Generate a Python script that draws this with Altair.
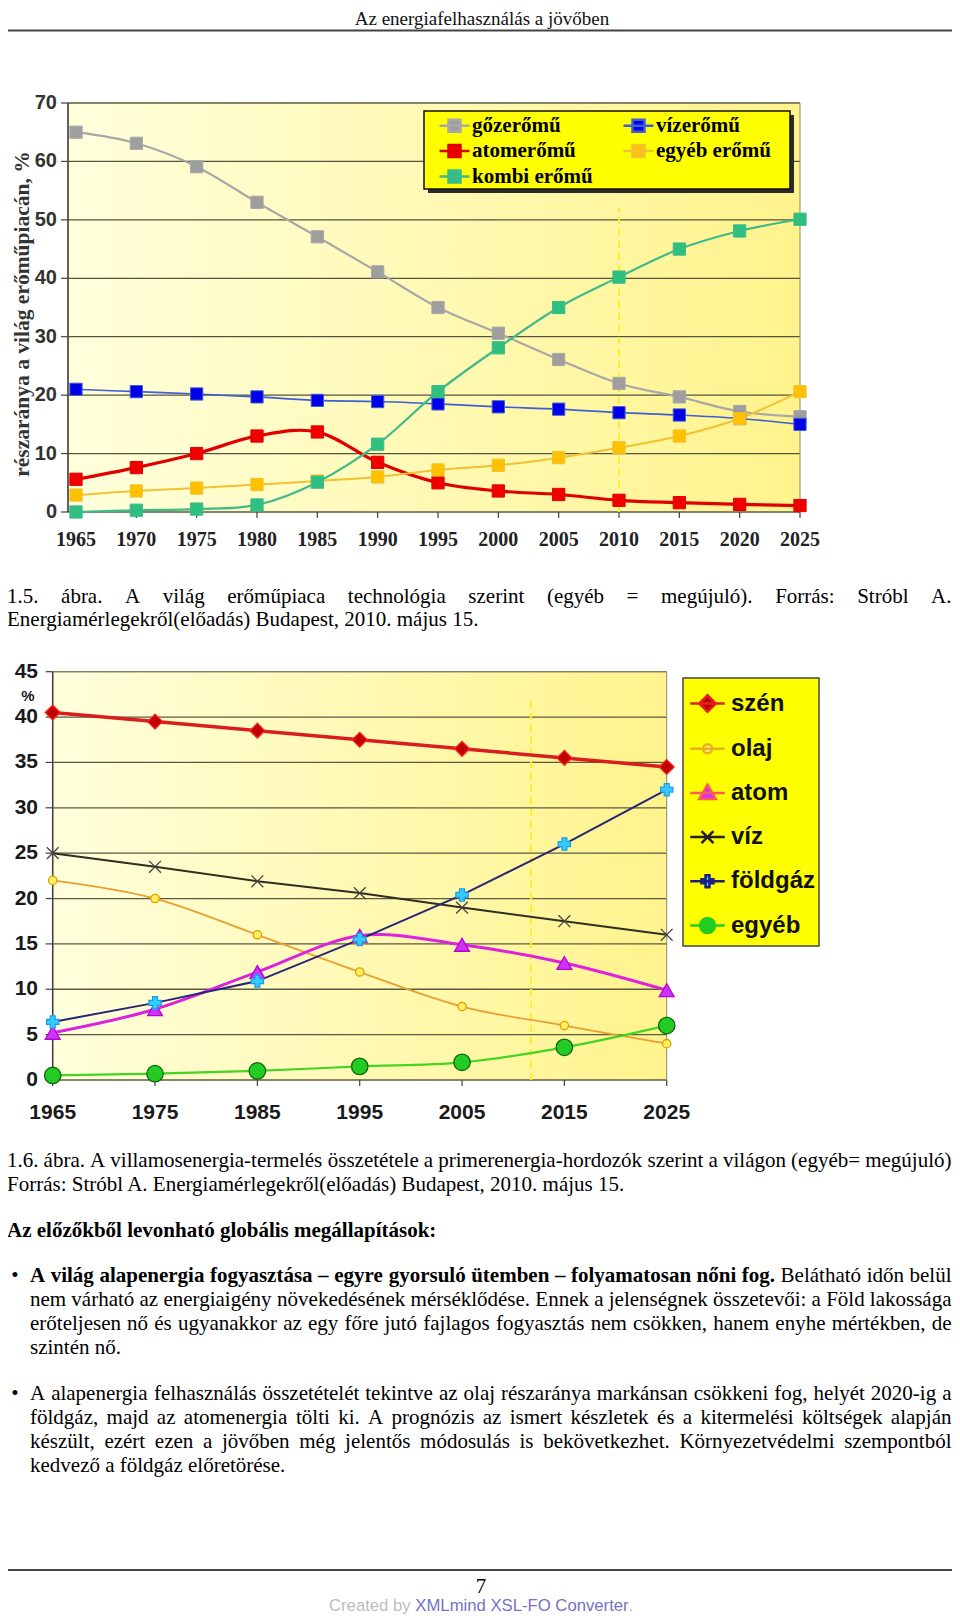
import unicodedata
import pandas as pd
import altair as alt

# ---------------- Figure 1.5 : world power-plant market ----------------
years_1 = [1965, 1970, 1975, 1980, 1985, 1990, 1995, 2000, 2005, 2010, 2015, 2020, 2025]
series_1 = ["gőzerőmű", "vízerőmű", "atomerőmű", "egyéb erőmű", "kombi erőmű"]
gozeromu = [65.0, 63.1, 59.1, 53.0, 47.1, 41.1, 35.0, 30.6, 26.1, 22.0, 19.7, 17.2, 16.3]
vizeromu = [21.0, 20.6, 20.2, 19.7, 19.1, 18.9, 18.5, 18.0, 17.6, 17.0, 16.6, 16.0, 15.0]
atomeromu = [5.6, 7.6, 10.0, 13.0, 13.7, 8.5, 5.0, 3.6, 3.0, 2.0, 1.6, 1.3, 1.1]
egyeb_eromu = [2.9, 3.6, 4.1, 4.7, 5.3, 6.0, 7.2, 8.0, 9.3, 11.0, 13.0, 16.0, 20.6]
kombi_eromu = [0.0, 0.3, 0.5, 1.2, 5.1, 11.6, 20.6, 28.1, 35.0, 40.2, 45.0, 48.1, 50.1]
legend_order_1 = ["gőzerőmű", "atomerőmű", "kombi erőmű", "vízerőmű", "egyéb erőmű"]
y_ticks_1 = [0, 10, 20, 30, 40, 50, 60, 70]
forecast_1 = 2010
forecast_1_top = 52
y_title_1 = "részaránya a világ erőműpiacán, %"

# ---------------- Figure 1.6 : electricity by primary source ----------------
years_2 = [1965, 1975, 1985, 1995, 2005, 2015, 2025]
series_2 = ["szén", "olaj", "atom", "víz", "földgáz", "egyéb"]
szen = [40.5, 39.5, 38.5, 37.5, 36.5, 35.5, 34.5]
olaj = [22.0, 20.0, 16.0, 11.9, 8.1, 6.0, 4.0]
atom = [5.2, 7.8, 11.9, 15.9, 14.9, 12.9, 9.9]
viz = [25.0, 23.5, 21.9, 20.6, 19.0, 17.5, 16.0]
foldgaz = [6.4, 8.5, 10.9, 15.5, 20.4, 26.0, 32.0]
egyeb = [0.5, 0.7, 1.0, 1.5, 1.95, 3.6, 6.0]
y_ticks_2 = [0, 5, 10, 15, 20, 25, 30, 35, 40, 45]
forecast_2 = 2011.75
forecast_2_top = 42
y_unit_2 = "%"

# ---------------- page text ----------------
header_text = "Az energiafelhasználás a jövőben"
caption_1 = ["1.5. ábra. A világ erőműpiaca technológia szerint (egyéb = megújuló). Forrás: Stróbl A.",
             "Energiamérlegekről(előadás) Budapest, 2010. május 15."]
caption_2 = ["1.6. ábra. A villamosenergia-termelés összetétele a primerenergia-hordozók szerint a világon (egyéb= megújuló)",
             "Forrás: Stróbl A. Energiamérlegekről(előadás) Budapest, 2010. május 15."]
heading = "Az előzőkből levonható globális megállapítások:"
bullet_1_bold = "A világ alapenergia fogyasztása – egyre gyorsuló ütemben – folyamatosan nőni fog."
bullet_1 = ["Belátható időn belül",
            "nem várható az energiaigény növekedésének mérséklődése. Ennek a jelenségnek összetevői: a Föld lakossága",
            "erőteljesen nő és ugyanakkor az egy főre jutó fajlagos fogyasztás nem csökken, hanem enyhe mértékben, de",
            "szintén nő."]
bullet_2 = ["A alapenergia felhasználás összetételét tekintve az olaj részaránya markánsan csökkeni fog, helyét 2020-ig a",
            "földgáz, majd az atomenergia tölti ki. A prognózis az ismert készletek és a kitermelési költségek alapján",
            "készült, ezért ezen a jövőben még jelentős módosulás is bekövetkezhet. Környezetvédelmi szempontból",
            "kedvező a földgáz előretörése."]
bullet_mark = "•"
page_number = "7"
footer_parts = ["Created by ", "XMLmind XSL-FO Converter", "."]
footer_colors = ["#BDBDBD", "#7373C4", "#BDBDBD"]

# ================= layout helpers =================
OX, OY = 8.0, 8.0           # page offset of the chart origin
W, H = 944, 1607


def cx(p):
    return p - OX


def cy(p):
    return p - OY


TR = {' ': 250, '(': 333, ')': 333, ',': 250, '-': 333, '.': 250, ':': 278, '=': 564, '%': 833, '–': 500,
      'A': 722, 'B': 667, 'C': 667, 'D': 722, 'E': 611, 'F': 556, 'G': 722, 'H': 722, 'I': 333, 'J': 389,
      'K': 722, 'L': 611, 'M': 889, 'N': 722, 'O': 722, 'P': 556, 'Q': 722, 'R': 667, 'S': 556, 'T': 611,
      'U': 722, 'V': 722, 'W': 944, 'X': 722, 'Y': 722, 'Z': 611,
      'a': 444, 'b': 500, 'c': 444, 'd': 500, 'e': 444, 'f': 333, 'g': 500, 'h': 500, 'i': 278, 'j': 278,
      'k': 500, 'l': 278, 'm': 778, 'n': 500, 'o': 500, 'p': 500, 'q': 500, 'r': 333, 's': 389, 't': 278,
      'u': 500, 'v': 500, 'w': 722, 'x': 500, 'y': 500, 'z': 444}
TB = {' ': 250, '(': 333, ')': 333, ',': 250, '-': 333, '.': 250, ':': 333, '=': 570, '%': 1000, '–': 500,
      'A': 722, 'B': 667, 'C': 722, 'D': 722, 'E': 667, 'F': 611, 'G': 778, 'H': 778, 'I': 389, 'J': 500,
      'K': 778, 'L': 667, 'M': 944, 'N': 722, 'O': 778, 'P': 611, 'Q': 778, 'R': 722, 'S': 556, 'T': 667,
      'U': 722, 'V': 722, 'W': 1000, 'X': 722, 'Y': 722, 'Z': 667,
      'a': 500, 'b': 556, 'c': 444, 'd': 556, 'e': 444, 'f': 333, 'g': 500, 'h': 556, 'i': 278, 'j': 333,
      'k': 556, 'l': 278, 'm': 833, 'n': 556, 'o': 500, 'p': 556, 'q': 556, 'r': 444, 's': 389, 't': 333,
      'u': 556, 'v': 500, 'w': 722, 'x': 500, 'y': 500, 'z': 444}
HV = {' ': 278, '.': 278, '-': 333, 'C': 722, 'F': 611, 'L': 556, 'M': 833, 'O': 778, 'S': 667, 'X': 667,
      'a': 556, 'b': 556, 'd': 556, 'e': 556, 'i': 222, 'm': 833, 'n': 556, 'o': 556, 'r': 333, 't': 278,
      'v': 500, 'y': 500}
for d in "0123456789":
    TR[d] = 500
    TB[d] = 500


def word_w(w, bold, fs, table=None):
    tbl = table if table is not None else (TB if bold else TR)
    return sum(tbl.get(unicodedata.normalize("NFD", c)[0], 500) for c in w) * fs / 1000.0


BODY = 21
LEFT, RIGHT, INDENT = cx(7), cx(951.5), cx(30)
rows = []


def justify(segs, left, right, y):
    items = [(w, b) for txt, b in segs for w in txt.split()]
    widths = [word_w(w, b, BODY) for w, b in items]
    gap = (right - left - sum(widths)) / (len(items) - 1)
    x = left
    for i, ((w, b), wd) in enumerate(zip(items, widths)):
        last = i == len(items) - 1
        rows.append({"txt": w, "px": right if last else x, "py": y, "bold": b, "end": last})
        x += wd + gap


def plain(txt, left, y, bold=False):
    rows.append({"txt": txt, "px": left, "py": y, "bold": bold, "end": False})


justify([(caption_1[0], False)], LEFT, RIGHT, cy(596.5))
plain(caption_1[1], LEFT, cy(620.3))
justify([(caption_2[0], False)], LEFT, RIGHT, cy(1160.9))
plain(caption_2[1], LEFT, cy(1184.7))
plain(heading, LEFT, cy(1231.0), bold=True)
b1y = [cy(v) for v in (1276.3, 1300.2, 1324.1, 1348.0)]
justify([(bullet_1_bold, True), (bullet_1[0], False)], INDENT, RIGHT, b1y[0])
justify([(bullet_1[1], False)], INDENT, RIGHT, b1y[1])
justify([(bullet_1[2], False)], INDENT, RIGHT, b1y[2])
plain(bullet_1[3], INDENT, b1y[3])
b2y = [cy(v) for v in (1394.0, 1417.9, 1441.8, 1465.7)]
for i in range(3):
    justify([(bullet_2[i], False)], INDENT, RIGHT, b2y[i])
plain(bullet_2[3], INDENT, b2y[3])
text_df = pd.DataFrame(rows)

ONE = pd.DataFrame({"k": [0]})
GRAD = {"gradient": "linear", "x1": 0, "y1": 0, "x2": 1, "y2": 0,
        "stops": [{"offset": 0, "color": "#FFFFDC"}, {"offset": 1, "color": "#FFF38C"}]}


def vrect(x0, y0, x1, y1, **mk):
    return alt.Chart(ONE).mark_rect(**mk).encode(
        x=alt.value(x0), x2=alt.value(x1), y=alt.value(y0), y2=alt.value(y1))


def vrule(x0, y0, x1, y1, **mk):
    return alt.Chart(ONE).mark_rule(**mk).encode(
        x=alt.value(x0), x2=alt.value(x1), y=alt.value(y0), y2=alt.value(y1))


def vtext(txt, x, y, **mk):
    return alt.Chart(pd.DataFrame({"t": [txt]})).mark_text(**mk).encode(
        x=alt.value(x), y=alt.value(y), text="t:N")


layers = []

# ================= Figure 1.5 =================
PX0, PX1, PY0, PY1 = cx(68), cx(800), cy(512), cy(103)
X1 = alt.Scale(domain=[1964.337, 2025], range=[PX0, PX1], nice=False, zero=False)
Y1 = alt.Scale(domain=[0, 70], range=[PY0, PY1], nice=False, zero=False)
vals_1 = [gozeromu, vizeromu, atomeromu, egyeb_eromu, kombi_eromu]
df1 = pd.DataFrame([{"year": y, "value": v, "series": s}
                    for s, vs in zip(series_1, vals_1) for y, v in zip(years_1, vs)])
t1 = pd.DataFrame({"v": y_ticks_1})
yr1 = pd.DataFrame({"year": years_1})
line_col_1 = {"gőzerőmű": "#A8A8A8", "vízerőmű": "#3F5FD0", "atomerőmű": "#E00000",
              "egyéb erőmű": "#F2C230", "kombi erőmű": "#3DBB88"}
line_w_1 = {"gőzerőmű": 2.2, "vízerőmű": 1.6, "atomerőmű": 3.2, "egyéb erőmű": 2.0, "kombi erőmű": 2.2}
pt_col_1 = {"gőzerőmű": "#9E9E9E", "vízerőmű": "#0000E8", "atomerőmű": "#F00000",
            "egyéb erőmű": "#FFC000", "kombi erőmű": "#2FBF80"}
xs1 = alt.X("year:Q", scale=X1, axis=None)
ys1 = alt.Y("value:Q", scale=Y1, axis=None)

layers.append(vrect(PX0, PY1, PX1, PY0, fill=GRAD))
layers.append(alt.Chart(t1).mark_rule(color="#55553F", strokeWidth=1.3).encode(
    y=alt.Y("v:Q", scale=Y1, axis=None), x=alt.value(PX0), x2=alt.value(PX1)))
layers.append(vrect(PX0, PY1, PX1, PY0, fill="transparent", stroke="#8A8A6A", strokeWidth=1))
layers.append(vrule(PX0, PY1, PX0, PY0, color="#404040", strokeWidth=1.5))
layers.append(alt.Chart(t1).mark_rule(color="#404040", strokeWidth=1.2).encode(
    y=alt.Y("v:Q", scale=Y1, axis=None), x=alt.value(PX0 - 7), x2=alt.value(PX0)))
layers.append(alt.Chart(yr1).mark_rule(color="#404040", strokeWidth=1.2).encode(
    x=alt.X("year:Q", scale=X1, axis=None), y=alt.value(PY0), y2=alt.value(PY0 + 6)))
layers.append(alt.Chart(t1).mark_text(align="right", baseline="middle", font="Liberation Sans",
                                      fontSize=20, fontWeight="bold", color="#333333").encode(
    y=alt.Y("v:Q", scale=Y1, axis=None), x=alt.value(cx(57)), text=alt.Text("v:Q", format="d")))
layers.append(alt.Chart(yr1).mark_text(align="center", baseline="middle", font="Liberation Serif",
                                       fontSize=20, fontWeight="bold", color="#222222").encode(
    x=alt.X("year:Q", scale=X1, axis=None), y=alt.value(cy(540)), text=alt.Text("year:Q", format="d")))
layers.append(vtext(y_title_1, cx(23), cy(314), angle=270, align="center", baseline="middle",
                    font="Liberation Serif", fontSize=21.5, fontWeight="bold", color="#333333"))
layers.append(alt.Chart(pd.DataFrame({"x": [forecast_1], "y": [0], "y2": [forecast_1_top]})).mark_rule(
    color="#FFEE22", strokeWidth=2, strokeDash=[7, 5]).encode(
    x=alt.X("x:Q", scale=X1, axis=None), y=alt.Y("y:Q", scale=Y1, axis=None), y2="y2:Q"))
for s in series_1:
    layers.append(alt.Chart(df1).transform_filter(alt.datum.series == s).mark_line(
        interpolate="cardinal", color=line_col_1[s], strokeWidth=line_w_1[s]).encode(x=xs1, y=ys1))

PATH1 = "M-1.5,0H1.5M-0.6,-0.6H0.6V0.6H-0.6Z"
LEG1 = alt.Legend(title=None, orient="none", legendX=cx(443), legendY=cy(114), columns=2,
                  symbolType=PATH1, symbolSize=400, symbolStrokeWidth=2.5, symbolOpacity=1,
                  labelFont="Liberation Serif", labelFontSize=21, labelFontWeight="bold",
                  labelColor="#000000", labelOffset=6, rowPadding=2.5, columnPadding=25,
                  padding=0, labelLimit=400)
layers.append(alt.Chart(df1).mark_point(filled=True, shape="square", size=150, opacity=1,
                                        strokeWidth=1).encode(
    x=xs1, y=ys1,
    fill=alt.Fill("series:N", scale=alt.Scale(domain=legend_order_1,
                                               range=[pt_col_1[s] for s in legend_order_1]), legend=LEG1),
    stroke=alt.Stroke("series:N", scale=alt.Scale(domain=legend_order_1,
                                                   range=[line_col_1[s] for s in legend_order_1]), legend=LEG1)))
layers.append(vrect(cx(428), cy(115), cx(794), cy(193), fill="#2A2A2A"))
layers.append(vrect(cx(424), cy(111), cx(790), cy(189), fill="#FFFF00", stroke="#111111", strokeWidth=1.5))

# ================= Figure 1.6 =================
QX0, QX1, QY0, QY1 = cx(52.7), cx(666.7), cy(1080), cy(671.7)
X2 = alt.Scale(domain=[1965, 2025], range=[QX0, QX1], nice=False, zero=False)
Y2 = alt.Scale(domain=[0, 45], range=[QY0, QY1], nice=False, zero=False)
vals_2 = [szen, olaj, atom, viz, foldgaz, egyeb]
df2 = pd.DataFrame([{"year": y, "value": v, "series": s}
                    for s, vs in zip(series_2, vals_2) for y, v in zip(years_2, vs)])
t2 = pd.DataFrame({"v": y_ticks_2})
yr2 = pd.DataFrame({"year": years_2})
xs2 = alt.X("year:Q", scale=X2, axis=None)
ys2 = alt.Y("value:Q", scale=Y2, axis=None)
line_col_2 = ["#D81E1E", "#E8A030", "#DD22DD", "#2E2E22", "#25257A", "#44D422"]
line_w_2 = [3.5, 1.8, 3.0, 2.0, 2.0, 2.2]
interp_2 = ["linear", "cardinal", "cardinal", "linear", "linear", "cardinal"]
pt_fill_2 = ["#C00000", "#FFF060", "#CC33FF", "#555555", "#33CCFF", "#22CC22"]
pt_stroke_2 = ["#FF2020", "#E0A000", "#BB00CC", "#444444", "#2299EE", "#116611"]
pt_shape_2 = ["diamond", "circle", "triangle-up", "M-1,-1L1,1M-1,1L1,-1", "cross", "circle"]
pt_size_2 = [220, 70, 220, 140, 150, 270]
leg_stroke_2 = ["#E02020", "#E6B020", "#FF5A5A", "#222222", "#1F1F80", "#22CC22"]
leg_shape_2 = ["M-1.15,0H1.15M0,-0.55L0.55,0L0,0.55L-0.55,0Z",
               "M-1.15,0H1.15M-0.3,0A0.3,0.3,0,1,0,0.3,0A0.3,0.3,0,1,0,-0.3,0Z",
               "M-1.15,0H1.15M0,-0.55L0.55,0.4L-0.55,0.4Z",
               "M-1.15,0H1.15M-0.4,-0.4L0.4,0.4M-0.4,0.4L0.4,-0.4",
               "M-1.15,0H1.15M-0.4,-0.13H-0.13V-0.4H0.13V-0.13H0.4V0.13H0.13V0.4H-0.13V0.13H-0.4Z",
               "M-1.15,0H1.15M-0.5,0A0.5,0.5,0,1,0,0.5,0A0.5,0.5,0,1,0,-0.5,0Z"]

layers.append(vrect(QX0, QY1, QX1, QY0, fill=GRAD))
layers.append(alt.Chart(t2).mark_rule(color="#5A5A40", strokeWidth=1.3).encode(
    y=alt.Y("v:Q", scale=Y2, axis=None), x=alt.value(QX0), x2=alt.value(QX1)))
layers.append(vrect(QX0, QY1, QX1, QY0, fill="transparent", stroke="#8A8A6A", strokeWidth=1))
layers.append(vrule(QX0, QY1, QX0, QY0, color="#404040", strokeWidth=1.5))
layers.append(alt.Chart(t2).mark_rule(color="#404040", strokeWidth=1.2).encode(
    y=alt.Y("v:Q", scale=Y2, axis=None), x=alt.value(QX0 - 7), x2=alt.value(QX0)))
layers.append(alt.Chart(yr2).mark_rule(color="#404040", strokeWidth=1.2).encode(
    x=alt.X("year:Q", scale=X2, axis=None), y=alt.value(QY0), y2=alt.value(QY0 + 6)))
layers.append(alt.Chart(t2).mark_text(align="right", baseline="middle", font="Liberation Sans",
                                      fontSize=21, fontWeight="bold", color="#1A1A1A").encode(
    y=alt.Y("v:Q", scale=Y2, axis=None), x=alt.value(cx(38)), text=alt.Text("v:Q", format="d")))
layers.append(alt.Chart(yr2).mark_text(align="center", baseline="middle", font="Liberation Sans",
                                       fontSize=21, fontWeight="bold", color="#1A1A1A").encode(
    x=alt.X("year:Q", scale=X2, axis=None), y=alt.value(cy(1113)), text=alt.Text("year:Q", format="d")))
layers.append(vtext(y_unit_2, cx(28), cy(695.7), align="center", baseline="middle", font="Liberation Sans",
                    fontSize=15, fontWeight="bold", color="#1A1A1A"))
layers.append(alt.Chart(pd.DataFrame({"x": [forecast_2], "y": [0], "y2": [forecast_2_top]})).mark_rule(
    color="#FFEE22", strokeWidth=2, strokeDash=[7, 5]).encode(
    x=alt.X("x:Q", scale=X2, axis=None), y=alt.Y("y:Q", scale=Y2, axis=None), y2="y2:Q"))
for s, c, w, ip in zip(series_2, line_col_2, line_w_2, interp_2):
    layers.append(alt.Chart(df2).transform_filter(alt.datum.series == s).mark_line(
        interpolate=ip, color=c, strokeWidth=w).encode(x=xs2, y=ys2))
for s, f, st, sh, sz in zip(series_2, pt_fill_2, pt_stroke_2, pt_shape_2, pt_size_2):
    layers.append(alt.Chart(df2).transform_filter(alt.datum.series == s).mark_point(
        filled=True, fill=f, stroke=st, shape=sh, size=sz, opacity=1, strokeWidth=1.3).encode(x=xs2, y=ys2))
layers.append(vrect(cx(683), cy(678), cx(819), cy(946), fill="#FFFF00", stroke="#444444", strokeWidth=1.5))
LEG2 = alt.Legend(title=None, orient="none", legendX=cx(691), legendY=cy(687),
                  symbolSize=900, symbolStrokeWidth=2.5, symbolOpacity=1,
                  labelFont="Liberation Sans", labelFontSize=24, labelFontWeight="bold",
                  labelColor="#111111", labelOffset=7, rowPadding=15.2, padding=0, labelLimit=400)
layers.append(alt.Chart(df2).transform_filter("false").mark_point(filled=True, opacity=1).encode(
    x=xs2, y=ys2,
    shape=alt.Shape("series:N", scale=alt.Scale(domain=series_2, range=leg_shape_2), legend=LEG2),
    fill=alt.Fill("series:N", scale=alt.Scale(domain=series_2, range=pt_fill_2), legend=LEG2),
    stroke=alt.Stroke("series:N", scale=alt.Scale(domain=series_2, range=leg_stroke_2), legend=LEG2)))

# ================= page text =================
layers.append(vrule(0, 22.5, W, 22.5, color="#444444", strokeWidth=1.8))
layers.append(vtext(header_text, cx(482), 11, align="center", baseline="middle",
                    font="Liberation Serif", fontSize=19, color="#111111"))
tx = alt.X("px:Q", scale=None, axis=None)
ty = alt.Y("py:Q", scale=None, axis=None)
for bold, end in [(False, False), (True, False), (False, True)]:
    sub = text_df[(text_df["bold"] == bold) & (text_df["end"] == end)]
    mk = dict(align="right" if end else "left", baseline="middle", font="Liberation Serif",
              fontSize=BODY, color="#000000")
    if bold:
        mk["fontWeight"] = "bold"
    layers.append(alt.Chart(sub).mark_text(**mk).encode(x=tx, y=ty, text="txt:N"))
for yb in [b1y[0], b2y[0]]:
    layers.append(vtext(bullet_mark, cx(15), yb, align="center", baseline="middle",
                        font="Liberation Serif", fontSize=BODY, color="#000000"))
layers.append(vrule(0, cy(1570), W, cy(1570), color="#444444", strokeWidth=2))
layers.append(vtext(page_number, cx(481), cy(1586.5), align="center", baseline="middle",
                    font="Liberation Serif", fontSize=21, color="#000000"))
FT = 16.7
fx, frows = cx(329), []
for part, col in zip(footer_parts, footer_colors):
    frows.append({"txt": part, "px": fx, "py": cy(1606), "col": col})
    fx += word_w(part, False, FT, HV)
layers.append(alt.Chart(pd.DataFrame(frows)).mark_text(
    align="left", baseline="middle", font="Liberation Sans", fontSize=FT).encode(
    x=tx, y=ty, text="txt:N", color=alt.Color("col:N", scale=None)))

chart = alt.layer(*layers).resolve_scale(
    x="independent", y="independent", color="independent", fill="independent",
    stroke="independent", shape="independent", size="independent"
).properties(
    width=W, height=H, padding=0, background="white",
    autosize=alt.AutoSizeParams(type="none")
).configure_view(stroke=None)

chart.save("out.html", embed_options={"renderer": "svg", "actions": False})
